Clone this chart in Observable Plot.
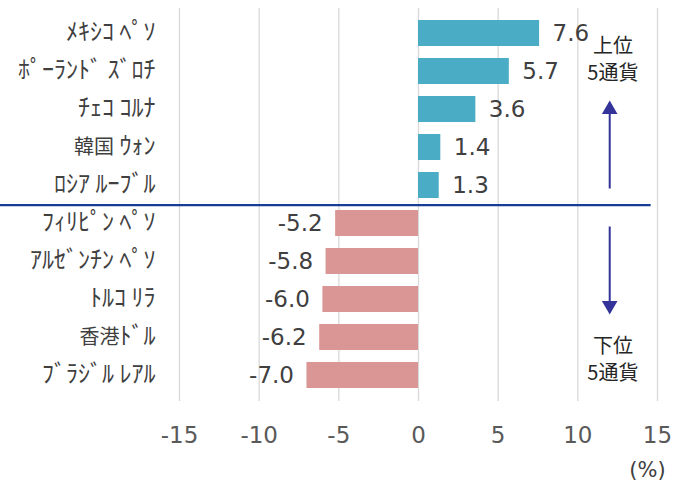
<!DOCTYPE html>
<html><head><meta charset="utf-8">
<script src="https://cdn.jsdelivr.net/npm/d3@7"></script>
<script src="https://cdn.jsdelivr.net/npm/@observablehq/plot@0.6"></script>
<style>body{margin:0;background:#fff;}</style>
</head><body><div id="chart"></div>
<script>
const currencies = ["ﾒｷｼｺ ﾍﾟｿ","ﾎﾟｰﾗﾝﾄﾞ ｽﾞﾛﾁ","ﾁｪｺ ｺﾙﾅ","韓国 ｳｫﾝ","ﾛｼｱ ﾙｰﾌﾞﾙ","ﾌｨﾘﾋﾟﾝ ﾍﾟｿ","ｱﾙｾﾞﾝﾁﾝ ﾍﾟｿ","ﾄﾙｺ ﾘﾗ","香港ﾄﾞﾙ","ﾌﾞﾗｼﾞﾙ ﾚｱﾙ"];
const changes = [7.6, 5.7, 3.6, 1.4, 1.3, -5.2, -5.8, -6.0, -6.2, -7.0];
const xTicks = [-15, -10, -5, 0, 5, 10, 15];
const topLabel = "上位\n5通貨";
const bottomLabel = "下位\n5通貨";
const unitLabel = "(%)";

const data = currencies.map((c, i) => ({name: c, v: changes[i]}));
const numFont = "'DejaVu Sans', 'Noto Sans CJK JP', sans-serif";
const jpFont = "'Noto Sans CJK JP', sans-serif";
const navy = "#333399";

const chart = Plot.plot({
  width: 673,
  height: 483,
  marginLeft: 179,
  marginRight: 16,
  marginTop: 8,
  marginBottom: 82,
  style: {fontFamily: jpFont, background: "#fff"},
  x: {domain: [-15, 15], ticks: xTicks, label: null},
  y: {domain: currencies, label: null, padding: 0.31},
  marks: [
    Plot.gridX(xTicks, {stroke: "#d9d9d9", strokeOpacity: 1, strokeWidth: 1.3}),
    Plot.barX(data, {y: "name", x: "v", fill: d => d.v >= 0 ? "#4BACC6" : "#D99694"}),
    Plot.text(data.filter(d => d.v >= 0), {y: "name", x: "v", text: d => d.v.toFixed(1), dx: 13, textAnchor: "start", fontSize: 23, fill: "#404040", fontFamily: numFont}),
    Plot.text(data.filter(d => d.v < 0), {y: "name", x: "v", text: d => d.v.toFixed(1), dx: -13, textAnchor: "end", fontSize: 23, fill: "#404040", fontFamily: numFont}),
    Plot.ruleY([currencies[4]], {y: d => d, x1: -26.3, x2: 14.6, dy: 19.6, stroke: "#163C96", strokeWidth: 2.2}),
    Plot.axisY({tickSize: 0, tickPadding: 24, fontSize: 20, fill: "#404040", fontFamily: jpFont}),
    Plot.axisX({ticks: xTicks, tickFormat: d => String(d), tickSize: 0, tickPadding: 25, fontSize: 23, fill: "#595959", fontFamily: numFont}),
    // arrows
    Plot.link([0], {x1: 12, x2: 12, y1: () => currencies[4], y2: () => currencies[2], dy: 3, stroke: navy, strokeWidth: 2}),
    Plot.dot([0], {x: 12, y: () => currencies[2], symbol: "triangle", r: 5.8, fill: navy, stroke: "none"}),
    Plot.link([0], {x1: 12, x2: 12, y1: () => currencies[5], y2: () => currencies[7], dy: 3, stroke: navy, strokeWidth: 2}),
    Plot.dot([0], {x: 12, y: () => currencies[7], dy: 6, symbol: "triangle", rotate: 180, r: 5.8, fill: navy, stroke: "none"}),
    Plot.text([topLabel], {x: 12.2, y: () => currencies[1], dy: -14, text: d => d, fontSize: 20, lineHeight: 1.38, fill: "#262626", fontFamily: jpFont}),
    Plot.text([bottomLabel], {x: 12.2, y: () => currencies[8], dy: 20, text: d => d, fontSize: 20, lineHeight: 1.38, fill: "#262626", fontFamily: jpFont}),
    Plot.text([unitLabel], {x: 15, frameAnchor: "bottom", dy: 75, dx: -10, text: d => d, fontSize: 21, letterSpacing: 2, fill: "#404040", fontFamily: numFont})
  ]
});

// enlarge half-width katakana runs in the y-axis labels (the reference's font draws them full height)
d3.select(chart).selectAll("g[aria-label='y-axis tick label'] text").each(function() {
  const t = d3.select(this);
  const s = t.text();
  const runs = [];
  for (const ch of s) {
    const half = /[\uFF61-\uFF9F ]/.test(ch);
    if (runs.length && runs[runs.length - 1].half === half) runs[runs.length - 1].s += ch;
    else runs.push({half, s: ch});
  }
  t.text(null);
  for (const r of runs) {
    t.append("tspan").attr("font-size", r.half ? 24 : 20).text(r.s);
  }
});
document.getElementById("chart").append(chart);
</script>
</body></html>
